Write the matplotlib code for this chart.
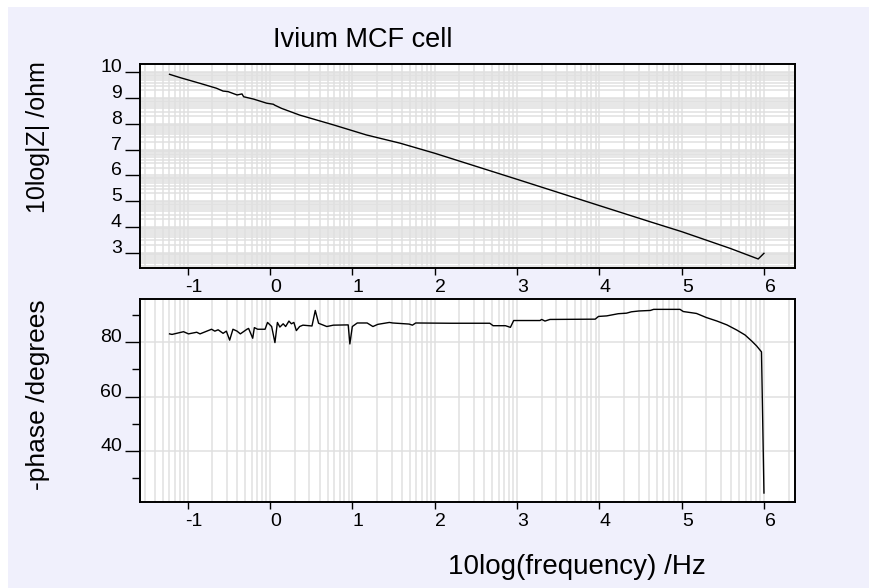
import numpy as np
import matplotlib
matplotlib.use("Agg")
import matplotlib.pyplot as plt
from matplotlib.patches import Rectangle
from matplotlib.ticker import FixedLocator
import matplotlib.transforms as mtransforms

plt.rcParams['font.family'] = ['Liberation Sans', 'DejaVu Sans']
plt.rcParams['axes.unicode_minus'] = False

# ---- data ----
mag_logf = [-1.22, -1.09, -0.85, -0.65, -0.57, -0.51, -0.40, -0.34, -0.32, -0.20,
            -0.04, 0.04, 0.06, 0.14, 0.36, 0.77, 1.17, 1.58, 2.00, 3.00, 4.00,
            4.62, 5.00, 5.59, 5.93, 6.00]
mag_logz = [9.92, 9.79, 9.57, 9.38, 9.27, 9.25, 9.12, 9.16, 9.05, 8.96,
            8.80, 8.76, 8.72, 8.60, 8.34, 7.96, 7.57, 7.25, 6.86, 5.85, 4.83,
            4.20, 3.82, 3.17, 2.76, 2.98]

ph_logf = [-1.22, -1.19, -1.05, -0.99, -0.89, -0.85, -0.71, -0.67, -0.63, -0.57,
           -0.53, -0.49, -0.45, -0.40, -0.36, -0.28, -0.26, -0.21, -0.19, -0.15,
           -0.06, -0.03, 0.02, 0.06, 0.09, 0.12, 0.16, 0.19, 0.23, 0.26, 0.29,
           0.32, 0.36, 0.40, 0.51, 0.55, 0.59, 0.69, 0.77, 0.95, 0.97, 1.00,
           1.06, 1.18, 1.25, 1.31, 1.45, 1.49, 1.69, 1.73, 1.77, 2.19, 2.67,
           2.71, 2.86, 2.92, 2.96, 3.28, 3.30, 3.34, 3.40, 3.95, 3.99, 4.09,
           4.23, 4.33, 4.39, 4.48, 4.62, 4.66, 4.98, 5.02, 5.18, 5.30, 5.43,
           5.55, 5.67, 5.77, 5.85, 5.91, 5.97, 6.00]
ph_deg = [83.0, 82.8, 83.8, 83.0, 83.6, 83.0, 84.7, 84.0, 84.5, 83.2,
          84.0, 80.7, 84.7, 84.0, 83.0, 84.7, 85.0, 81.4, 85.3, 84.7,
          84.7, 87.2, 85.7, 79.8, 87.2, 85.5, 86.7, 85.7, 87.7, 86.7, 87.2,
          84.2, 85.7, 86.2, 85.9, 91.6, 86.9, 85.7, 86.2, 86.3, 79.3, 85.7,
          87.0, 87.0, 85.7, 86.5, 87.2, 87.0, 86.6, 86.2, 87.0, 86.9, 86.9,
          86.0, 86.0, 85.4, 87.9, 87.9, 88.3, 87.7, 88.3, 88.4, 89.4, 89.6,
          90.4, 90.6, 91.1, 91.4, 91.6, 92.0, 92.0, 91.2, 90.5, 89.0, 87.7,
          86.3, 84.4, 82.6, 80.4, 78.6, 76.4, 24.6]

x_ticks = [-1, 0, 1, 2, 3, 4, 5, 6]
mag_ticks = [3, 4, 5, 6, 7, 8, 9, 10]
ph_ticks = [40, 60, 80]
ph_minor = [30, 50, 70, 90]

title = "Ivium MCF cell"
ylabel_top = "10log|Z| /ohm"
ylabel_bot = "-phase /degrees"
xlabel = "10log(frequency) /Hz"

# ---- figure ----
W, H = 870, 588
bg = '#F0F0FC'
fig = plt.figure(figsize=(W / 100, H / 100), dpi=100, facecolor=bg)
fig.patches.append(Rectangle((0, 1 - 7 / H), 1, 7 / H, transform=fig.transFigure,
                             facecolor='white', edgecolor='none', zorder=-10))
fig.patches.append(Rectangle((0, 0), 8 / W, 1, transform=fig.transFigure,
                             facecolor='white', edgecolor='none', zorder=-10))

ax1 = fig.add_axes([140 / W, 1 - 268 / H, 655 / W, 204 / H])
ax2 = fig.add_axes([140 / W, 1 - 502 / H, 655 / W, 203 / H])

xlim = (-1.579, 6.377)
grid_c = '#E0E0E0'
grid_lw = 1.1
tick_fs = 14

def log_positions(lo, hi):
    pos = []
    for n in range(int(np.floor(lo)) - 1, int(np.ceil(hi)) + 1):
        for k in range(1, 10):
            v = n + np.log10(k)
            if lo < v < hi:
                pos.append(v)
    return pos

for ax in (ax1, ax2):
    ax.set_facecolor('white')
    ax.set_xlim(*xlim)
    ax.xaxis.set_major_locator(FixedLocator(x_ticks))
    ax.xaxis.set_minor_locator(FixedLocator(log_positions(*xlim)))
    ax.tick_params(axis='x', which='major', direction='out', length=5, width=1,
                   labelsize=tick_fs, pad=3, colors='black')
    ax.tick_params(axis='x', which='minor', length=0)
    ax.grid(True, axis='x', which='both', color=grid_c, lw=grid_lw, zorder=0)
    ax.set_axisbelow(True)
    for s in ax.spines.values():
        s.set_linewidth(1.4)
        s.set_color('black')
    offset = mtransforms.ScaledTranslation(6 / 100, 0, fig.dpi_scale_trans)
    for lab in ax.get_xticklabels():
        lab.set_transform(lab.get_transform() + offset)

# top: magnitude
ax1.plot(mag_logf, mag_logz, color='black', lw=1.0, zorder=3)
ylim1 = (2.41, 10.32)
ax1.set_ylim(*ylim1)
ax1.yaxis.set_major_locator(FixedLocator(mag_ticks))
ax1.yaxis.set_minor_locator(FixedLocator(log_positions(*ylim1)))
ax1.tick_params(axis='y', which='major', direction='out', length=11, width=1,
                labelsize=tick_fs, pad=2)
ax1.tick_params(axis='y', which='minor', length=0)
ax1.grid(True, axis='y', which='both', color=grid_c, lw=grid_lw, zorder=0)
for lab in ax1.get_yticklabels():
    lab.set_verticalalignment('baseline')

# bottom: phase
ax2.plot(ph_logf, ph_deg, color='black', lw=1.0, zorder=3)
ax2.set_ylim(21.3, 95.8)
ax2.yaxis.set_major_locator(FixedLocator(ph_ticks))
ax2.yaxis.set_minor_locator(FixedLocator(ph_minor))
ax2.tick_params(axis='y', which='major', direction='out', length=11, width=1,
                labelsize=tick_fs, pad=2)
ax2.tick_params(axis='y', which='minor', direction='out', length=6, width=1)
ax2.grid(True, axis='y', which='major', color=grid_c, lw=grid_lw, zorder=0)
for lab in ax2.get_yticklabels():
    lab.set_verticalalignment('baseline')

fig.text(363 / W, 1 - 40 / H, title, ha='center', va='center', fontsize=19.5)
fig.text(38 / W, 1 - 137 / H, ylabel_top, ha='center', va='center',
         rotation=90, fontsize=18)
fig.text(38 / W, 1 - 395 / H, ylabel_bot, ha='center', va='center',
         rotation=90, fontsize=19)
fig.text(577 / W, 1 - 567 / H, xlabel, ha='center', va='center', fontsize=20)

fig.savefig('out.png', dpi=100, facecolor=fig.get_facecolor())
